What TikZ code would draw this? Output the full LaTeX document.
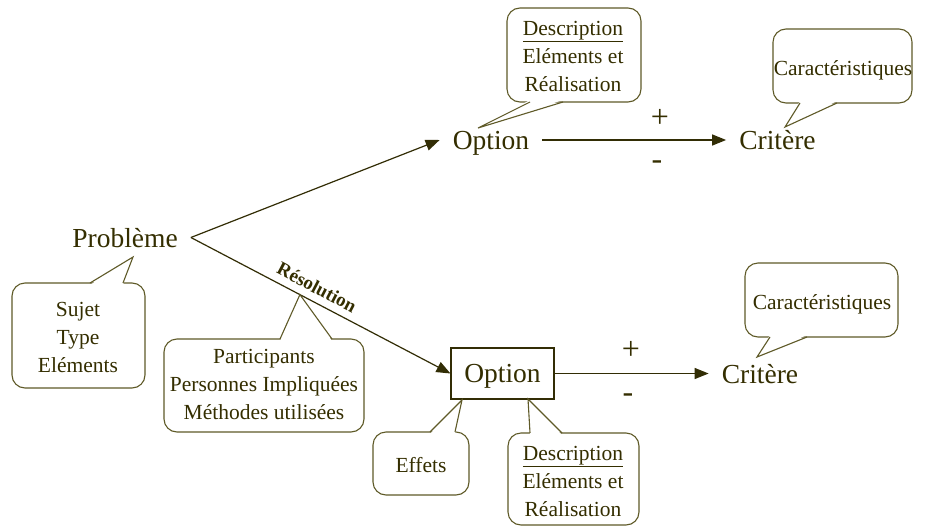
\documentclass[tikz,border=0pt]{standalone}
\usepackage{fontspec}
\setmainfont{Liberation Serif}
\usetikzlibrary{arrows.meta,calc}
\definecolor{txt}{RGB}{52,46,0}
\definecolor{ln}{RGB}{95,90,40}
\definecolor{arr}{RGB}{50,45,5}
% bubble with tail on top edge: L,T,R,B,xa,xb,tip
\newcommand{\bubtop}[7]{%
  \draw[bubline, rounded corners=13pt] (#1,#2) rectangle (#3,#4);
  \fill[white] (#5,#2+2) -- (#7) -- (#6,#2+2) -- cycle;
  \draw[bubline] (#5,#2) -- (#7) -- (#6,#2);
}
% bubble with tail on bottom edge
\newcommand{\bubbot}[7]{%
  \draw[bubline, rounded corners=13pt] (#1,#2) rectangle (#3,#4);
  \fill[white] (#5,#4-2) -- (#7) -- (#6,#4-2) -- cycle;
  \draw[bubline] (#5,#4) -- (#7) -- (#6,#4);
}
\begin{document}
\begin{tikzpicture}[x=1pt,y=-1pt,
  lbl/.style={font=\fontsize{27.5}{30}\selectfont, text=txt, text depth=0pt, inner xsep=13pt, inner ysep=2pt},
  btxt/.style={font=\fontsize{21.5}{28}\selectfont, text=txt, align=center, inner sep=0pt, text depth=0pt},
  bubline/.style={draw=ln, line width=1.1pt},
  conn/.style={draw=arr, line width=1.2pt, -{Triangle[length=14pt,width=11pt]}},
  sign/.style={font=\fontsize{32}{34}\selectfont, text=txt, inner sep=0pt},
  res/.style={font=\fontsize{19}{22}\selectfont\bfseries, text=txt, text depth=0pt}
]
\fill[white] (0,0) rectangle (925,527);
\useasboundingbox (0,0) rectangle (925,527);

% main labels
\node[lbl] (prob) at (125,237.5) {Problème};
\node[lbl] (opt1) at (491,140) {Option};
\node[lbl] (crit1) at (777.5,140) {Critère};
\node[lbl, draw=arr, line width=1.1pt, minimum width=103pt, minimum height=51pt, inner xsep=0pt] (opt2) at (502.5,373.5) {Option};
\node[lbl] (crit2) at (760,373.5) {Critère};

% connectors
\draw[conn] (prob.east) -- (opt1.west);
\draw[conn] (prob.east) -- node[res, sloped, above=4pt, pos=0.46] (reslbl) {Résolution} (opt2.west);
\draw[conn] (opt1.east) -- (crit1.west);
\draw[conn] (opt2.east) -- (crit2.west);

% signs
\node[sign] (p1) at (660,118) {+};
\node[sign] (m1) at (657,165) {-};
\node[sign] (p2) at (631,350) {+};
\node[sign] (m2) at (628,398) {-};

% tips of callouts
\coordinate (t1) at (133,257);
\coordinate (t2) at ($(prob.east)!0.42!(opt2.west)$);
\coordinate (t3) at (478,128);
\coordinate (t4) at (785,127);
\coordinate (t5) at (757,357);
\coordinate (t6) at (462,400);
\coordinate (t7) at (528,399);

% callouts
\bubtop{12}{283}{145}{388}{90}{123}{t1}
\bubtop{164}{339}{364}{432}{280}{332}{t2}
\bubbot{507}{8}{641}{102}{530}{563}{t3}
\bubbot{773}{29}{912}{103}{800}{837}{t4}
\bubbot{745}{263}{898}{337}{770}{807}{t5}
\bubtop{373}{432}{469}{495}{430}{455}{t6}
\bubtop{508}{433}{639}{525}{530}{562}{t7}

% callout texts
\node[btxt] (b1) at (78,337) {Sujet\\Type\\Eléments};
\node[btxt] (b2) at (264,384) {Participants\\Personnes Impliquées\\Méthodes utilisées};
\node[btxt] (b3) at (573,56) {\underline{Description}\\Eléments et\\Réalisation};
\node[btxt] (b4) at (843,68) {Caractéristiques};
\node[btxt] (b5) at (822,302) {Caractéristiques};
\node[btxt] (b6) at (421,465) {Effets};
\node[btxt] (b7) at (573,481) {\underline{Description}\\Eléments et\\Réalisation};
\end{tikzpicture}
\end{document}
